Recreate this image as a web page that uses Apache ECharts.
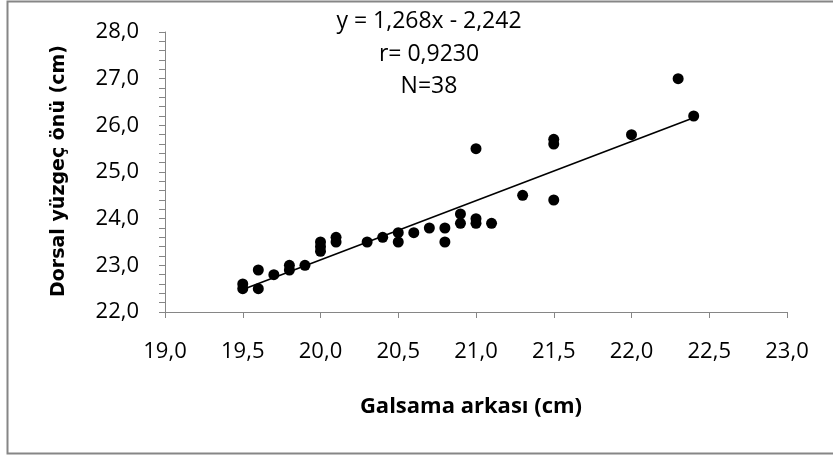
<!DOCTYPE html>
<html>
<head>
<meta charset="utf-8">
<script src="https://cdn.jsdelivr.net/npm/echarts@6/dist/echarts.min.js"></script>
<style>
html,body{margin:0;padding:0;background:#fff;}
#chart{width:833px;height:456px;}
</style>
</head>
<body>
<div id="chart"></div>
<script>
// Galsama arkası (cm)
const xValues = [19.5, 19.5, 19.6, 19.6, 19.7, 19.8, 19.8, 19.9, 20.0, 20.0, 20.0, 20.1, 20.1, 20.3, 20.4, 20.5, 20.5, 20.6, 20.7, 20.8, 20.8, 20.9, 20.9, 21.0, 21.0, 21.0, 21.1, 21.3, 21.5, 21.5, 21.5, 22.0, 22.3, 22.4];
// Dorsal yüzgeç önü (cm)
const yValues = [22.5, 22.6, 22.9, 22.5, 22.8, 22.9, 23.0, 23.0, 23.3, 23.4, 23.5, 23.5, 23.6, 23.5, 23.6, 23.7, 23.5, 23.7, 23.8, 23.8, 23.5, 24.1, 23.9, 24.0, 23.9, 25.5, 23.9, 24.5, 25.7, 25.6, 24.4, 25.8, 27.0, 26.2];
const slope = 1.268;
const intercept = -2.242;
const trendRange = [19.5, 22.4];
const annotations = ["y = 1,268x - 2,242", "r= 0,9230", "N=38"];
const xTitle = "Galsama arkası (cm)";
const yTitle = "Dorsal yüzgeç önü (cm)";

const points = xValues.map((x, i) => [x, yValues[i]]);
const trend = trendRange.map(x => [x, slope * x + intercept]);
const fmt = v => v.toFixed(1).replace('.', ',');
const font = 'Open Sans';
const axisColor = '#868686';

const chart = echarts.init(document.getElementById('chart'), null, {renderer: 'canvas'});
const annY = [21, 54, 86];
chart.setOption({
  animation: false,
  backgroundColor: '#fff',
  grid: {left: 165, right: 46, top: 32, bottom: 144, containLabel: false},
  xAxis: {
    type: 'value', min: 19, max: 23, interval: 0.5,
    axisLine: {show: true, onZero: false, lineStyle: {color: axisColor, width: 1}},
    axisTick: {show: true, length: 6, lineStyle: {color: axisColor}},
    splitLine: {show: false},
    axisLabel: {formatter: fmt, margin: 29, color: '#000', fontFamily: font, fontSize: 22},
    name: xTitle, nameLocation: 'middle', nameGap: 84,
    nameTextStyle: {color: '#000', fontFamily: font, fontSize: 22, fontWeight: 'bold', padding: [0, 10, 0, 0]}
  },
  yAxis: {
    type: 'value', min: 22, max: 28, interval: 1,
    axisLine: {show: true, onZero: false, lineStyle: {color: axisColor, width: 1}},
    axisTick: {show: true, length: 6, lineStyle: {color: axisColor}},
    minorTick: {show: true, splitNumber: 5, length: 6, lineStyle: {color: axisColor}},
    splitLine: {show: false},
    axisLabel: {formatter: fmt, margin: 26, color: '#000', fontFamily: font, fontSize: 22}
  },
  graphic: [
    {type: 'rect', shape: {x: 7.5, y: 1.5, width: 840, height: 452}, style: {fill: 'none', stroke: '#868686', lineWidth: 2}, z: 100, silent: true},
    {type: 'text', x: 59, y: 171, rotation: Math.PI / 2,
     style: {text: yTitle, fill: '#000', font: 'bold 19px "DejaVu Sans"', align: 'center', verticalAlign: 'middle', textAlign: 'center', textVerticalAlign: 'middle'}}
  ].concat(annotations.map((t, i) => ({
    type: 'text', x: 429, y: annY[i],
    style: {text: t, fill: '#000', font: '23px "' + font + '"', align: 'center', verticalAlign: 'middle', textAlign: 'center', textVerticalAlign: 'middle'}
  }))),
  series: [
    {type: 'line', data: trend, showSymbol: false, symbol: 'none', lineStyle: {color: '#000', width: 1.6}, z: 1},
    {type: 'scatter', data: points, symbol: 'circle', symbolSize: 11, itemStyle: {color: '#000', opacity: 1}, z: 2}
  ]
});
</script>
</body>
</html>
